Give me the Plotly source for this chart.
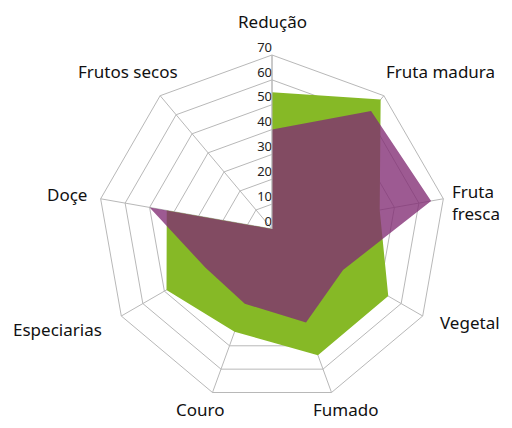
import plotly.graph_objects as go

categories = ["Redução", "Fruta madura", "Fruta<br>fresca", "Vegetal", "Fumado",
              "Couro", "Especiarias", "Doçe", "Frutos secos"]
green_values = [55, 68, 44, 54, 54, 44, 49, 43, 0]
purple_values = [40, 62, 65, 33, 40, 32, 31, 50, 0]
radial_ticks = [0, 10, 20, 30, 40, 50, 60, 70]

# label placement in the 512x428 page: (x, y, xanchor)
label_px = [(272, 21, "center"), (440, 72, "center"), (502, 202, "right"),
            (502, 322, "right"), (346, 409, "center"), (200, 409, "center"),
            (57, 329, "center"), (67, 195, "center"), (128, 72, "center")]

OFF = 8  # page body margin
W, H = 512 - 2 * OFF, 428 - 2 * OFF
ML, MT = 98 - OFF, 55 - OFF
MR = W - (446 - OFF)
MB = H - (403 - OFF)
PW, PH = W - ML - MR, H - MT - MB

def closed(v):
    return list(v) + [v[0]]

fig = go.Figure()
fig.add_trace(go.Scatterpolar(
    r=closed(green_values), theta=closed(categories), mode="lines",
    fill="toself", fillcolor="rgb(134,185,38)", line=dict(width=0),
    hoverinfo="skip", showlegend=False))
fig.add_trace(go.Scatterpolar(
    r=closed(purple_values), theta=closed(categories), mode="lines",
    fill="toself", fillcolor="rgba(129,44,115,0.78)", line=dict(width=0),
    hoverinfo="skip", showlegend=False))
# radial tick labels (r nudged off the exact centre so the 0 label is drawn)
fig.add_trace(go.Scatterpolar(
    r=[max(t, 0.05) for t in radial_ticks], theta=[categories[0]] * len(radial_ticks),
    mode="text", text=[str(t) for t in radial_ticks], textposition="top left",
    textfont=dict(family="Noto Sans", size=13, color="#222222"),
    hoverinfo="skip", showlegend=False, cliponaxis=False))

annotations = []
for cat, (px, py, xa) in zip(categories, label_px):
    fx, fy = px - OFF, py - OFF
    annotations.append(dict(
        text=cat, xref="paper", yref="paper",
        x=(fx - ML) / PW, y=(H - MB - fy) / PH,
        xanchor=xa, yanchor="middle", showarrow=False,
        align="left",
        font=dict(family="Noto Sans", size=17, color="#111111")))

grid = "#b8b8b8"
fig.update_layout(
    width=W, height=H,
    margin=dict(l=ML, r=MR, t=MT, b=MB),
    paper_bgcolor="white",
    polar=dict(
        bgcolor="white",
        gridshape="linear",
        domain=dict(x=[0, 1], y=[0, 1]),
        radialaxis=dict(
            range=[0, 70], tickvals=radial_ticks, showticklabels=False,
            angle=90,
            showline=True, linecolor=grid, linewidth=1,
            gridcolor=grid, gridwidth=1, ticks="", layer="above traces"),
        angularaxis=dict(
            categoryarray=categories, categoryorder="array",
            rotation=90, direction="clockwise",
            showline=True, linecolor=grid, linewidth=1,
            gridcolor=grid, gridwidth=1, ticks="", showticklabels=False,
            layer="above traces"),
    ),
    annotations=annotations,
)

fig.write_html("out.html")
